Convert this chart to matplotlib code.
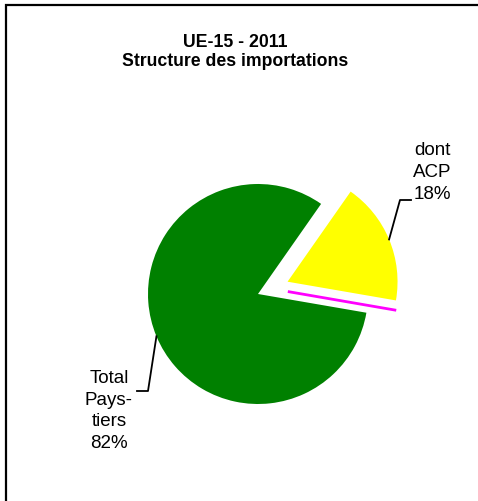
import numpy as np
import matplotlib.pyplot as plt
from matplotlib.patches import Rectangle

labels = ['dont\nACP\n18%', 'Total\nPays-\ntiers\n82%']
shares = [18, 82]
colors = ['#FFFF00', '#008000']
explode = [32, 0]  # pie() offsets in data units

W, H = 478, 502
fig = plt.figure(figsize=(W / 100, H / 100), dpi=100)
ax = fig.add_axes([0, 0, 1, 1])

wedges, _ = ax.pie(shares, colors=colors, explode=explode, startangle=-9.8,
                   center=(258, 207), radius=110,
                   wedgeprops=dict(linewidth=0))

ax.set_xlim(0, W)
ax.set_ylim(0, H)
ax.set_aspect('equal')
ax.axis('off')

# magenta line under the detached slice
yw = wedges[0]
cx, cy = yw.center
th = np.radians(yw.theta1)
nx, ny = np.sin(th) * 10 + 2, -np.cos(th) * 10
ax.plot([cx + nx, cx + nx + yw.r * np.cos(th)],
        [cy + ny, cy + ny + yw.r * np.sin(th)],
        color='#FF00FF', lw=2, solid_capstyle='butt')

# leader lines and labels
elbows = [(400, 301), (148, 110)]
ends = [(411, 301), (137, 110)]
text_pos = [(432, 329.5), (109, 91)]
for w, lab, el, en, tp in zip(wedges, labels, elbows, ends, text_pos):
    mid = np.radians((w.theta1 + w.theta2) / 2)
    px = w.center[0] + w.r * np.cos(mid)
    py = w.center[1] + w.r * np.sin(mid)
    ax.plot([px, el[0], en[0]], [py, el[1], en[1]], color='black', lw=1.3)
    ax.text(tp[0], tp[1], lab, ha='center', va='center', fontsize=13.5,
            family='Liberation Sans', linespacing=1.37, multialignment='center')

ax.text(235, H - 52, 'UE-15 - 2011\nStructure des importations', ha='center',
        va='center', fontsize=12.7, fontweight='bold', family='Liberation Sans',
        linespacing=1.15)

fig.patches.append(Rectangle((6 / W, -0.1), 1.2, 1.1 - 6 / H, transform=fig.transFigure,
                             fill=False, edgecolor='black', lw=1.6))

fig.savefig('out.png', dpi=100)
